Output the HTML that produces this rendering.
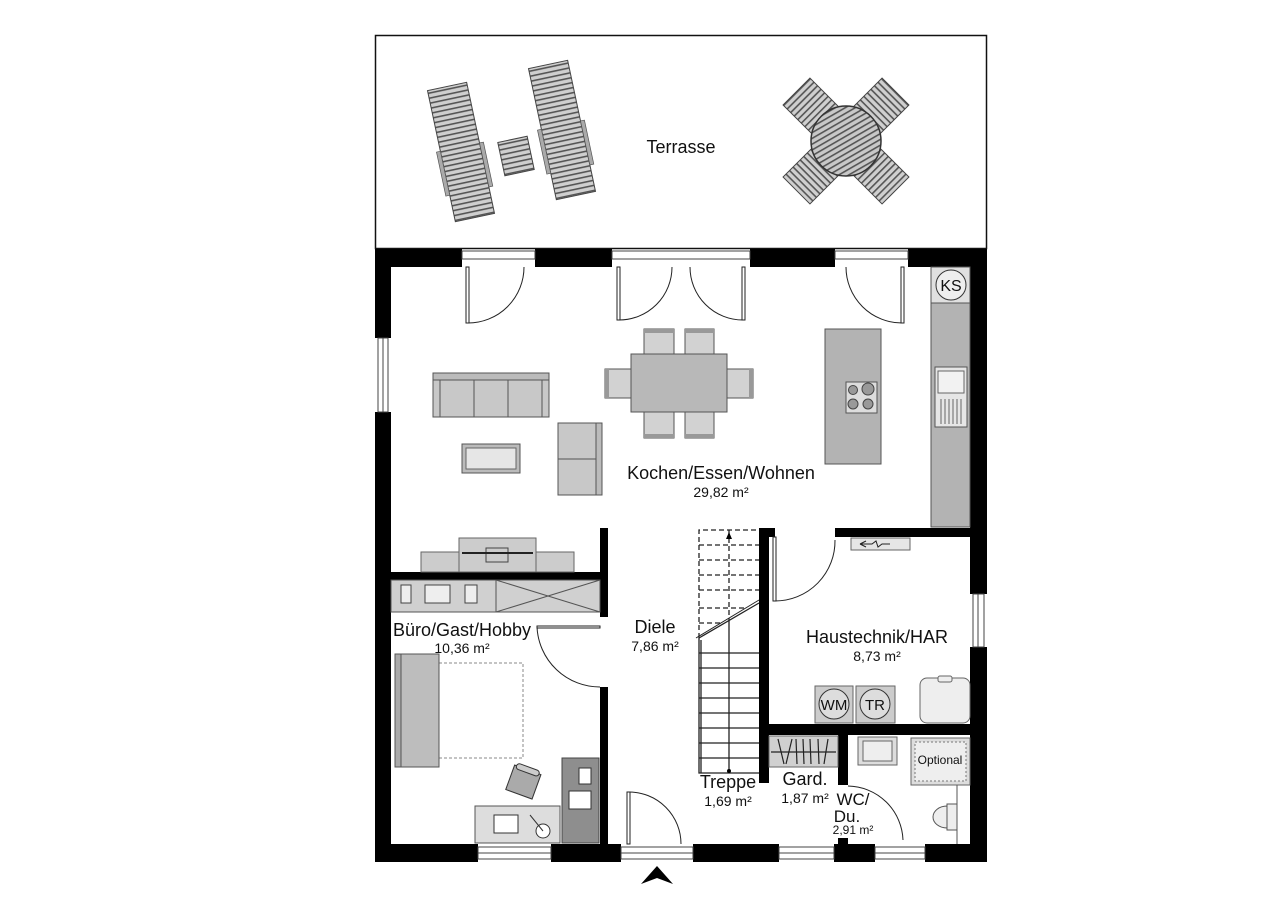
<!DOCTYPE html>
<html><head><meta charset="utf-8"><style>
html,body{margin:0;padding:0;background:#fff;}
svg{display:block;}
text{font-family:"Liberation Sans",Arial,sans-serif;fill:#111;}
</style></head><body>
<svg width="1280" height="906" viewBox="0 0 1280 906" xmlns="http://www.w3.org/2000/svg">
<defs>
<pattern id="hs" width="6" height="5" patternUnits="userSpaceOnUse"><rect width="6" height="5" fill="#cfcfcf"/><rect y="0" width="6" height="1.6" fill="#555"/></pattern>
<pattern id="ds" width="5" height="5" patternUnits="userSpaceOnUse" patternTransform="rotate(60)"><rect width="5" height="5" fill="#c8c8c8"/><rect width="1.6" height="5" fill="#555"/></pattern>
</defs>
<!-- terrace -->
<rect x="375.5" y="35.5" width="611" height="213" fill="none" stroke="#111" stroke-width="1.5"/>
<text x="681" y="153" font-size="18" text-anchor="middle">Terrasse</text>
<g transform="translate(461,152) rotate(-12)"><rect x="-20" y="-67" width="40" height="134" fill="url(#hs)" stroke="#444"/><rect x="-24" y="-5" width="4" height="45" fill="#aaa" stroke="#555" stroke-width=".7"/><rect x="20" y="-5" width="4" height="45" fill="#aaa" stroke="#555" stroke-width=".7"/></g>
<g transform="translate(562,130) rotate(-12)"><rect x="-20" y="-67" width="40" height="134" fill="url(#hs)" stroke="#444"/><rect x="-24" y="-5" width="4" height="45" fill="#aaa" stroke="#555" stroke-width=".7"/><rect x="20" y="-5" width="4" height="45" fill="#aaa" stroke="#555" stroke-width=".7"/></g>
<g transform="translate(516,156) rotate(-12)"><rect x="-15" y="-17" width="30" height="34" fill="url(#hs)" stroke="#444"/></g>
<g transform="translate(846,141)">
<g transform="rotate(45)"><rect x="-19" y="-70" width="38" height="40" fill="url(#hs)" stroke="#444"/><rect x="-19" y="30" width="38" height="40" fill="url(#hs)" stroke="#444"/></g>
<g transform="rotate(-45)"><rect x="-19" y="-70" width="38" height="40" fill="url(#hs)" stroke="#444"/><rect x="-19" y="30" width="38" height="40" fill="url(#hs)" stroke="#444"/></g>
<circle r="35" fill="url(#ds)" stroke="#333" stroke-width="1.5"/>
</g>
<!-- walls -->
<g fill="#000">
<rect x="375" y="249" width="87" height="18"/>
<rect x="535" y="249" width="77" height="18"/>
<rect x="750" y="249" width="85" height="18"/>
<rect x="908" y="249" width="79" height="18"/>
<rect x="375" y="249" width="16" height="89"/>
<rect x="375" y="412" width="16" height="450"/>
<rect x="970" y="249" width="17" height="345"/>
<rect x="970" y="647" width="17" height="215"/>
<rect x="375" y="844" width="103" height="18"/>
<rect x="551" y="844" width="70" height="18"/>
<rect x="693" y="844" width="86" height="18"/>
<rect x="834" y="844" width="41" height="18"/>
<rect x="925" y="844" width="62" height="18"/>
<rect x="391" y="572" width="217" height="8"/>
<rect x="600" y="528" width="8" height="89"/>
<rect x="600" y="687" width="8" height="160"/>
<rect x="759" y="528" width="10" height="255"/>
<rect x="759" y="528" width="16" height="9"/>
<rect x="835" y="528" width="138" height="9"/>
<rect x="769" y="724" width="201" height="11"/>
<rect x="838" y="735" width="10" height="50"/>
<rect x="838" y="838" width="10" height="10"/>
</g>
<!-- windows -->
<g fill="#fff" stroke="#444" stroke-width="1">
<rect x="378" y="338" width="10" height="74"/><line x1="383" y1="338" x2="383" y2="412"/>
<rect x="973" y="594" width="11" height="53"/><line x1="978" y1="594" x2="978" y2="647"/>
<rect x="478" y="847" width="73" height="12"/><line x1="478" y1="853" x2="551" y2="853"/>
<rect x="779" y="847" width="55" height="12"/><line x1="779" y1="853" x2="834" y2="853"/>
<rect x="875" y="847" width="50" height="12"/><line x1="875" y1="853" x2="925" y2="853"/>
<rect x="621" y="847" width="72" height="12"/><line x1="621" y1="853" x2="693" y2="853"/>
<rect x="462" y="251" width="73" height="8"/><rect x="612" y="251" width="138" height="8"/><rect x="835" y="251" width="73" height="8"/>
</g>
<!-- doors -->
<g fill="none" stroke="#222" stroke-width="1">
<rect x="466" y="267" width="3" height="56" fill="#fff"/><path d="M468 323 A56 56 0 0 0 524 267"/>
<rect x="617" y="267" width="3" height="53" fill="#fff"/><path d="M619 320 A53 53 0 0 0 672 267"/>
<rect x="742" y="267" width="3" height="53" fill="#fff"/><path d="M743 320 A53 53 0 0 1 690 267"/>
<rect x="901" y="267" width="3" height="56" fill="#fff"/><path d="M902 323 A56 56 0 0 1 846 267"/>
<rect x="537" y="626" width="63" height="2" fill="#fff"/><path d="M537 627 A63 63 0 0 0 600 687"/>
<rect x="627" y="792" width="3" height="52" fill="#fff"/><path d="M629 792 A52 52 0 0 1 681 844"/>
<rect x="773" y="537" width="3" height="64" fill="#fff"/><path d="M775 601 A60 60 0 0 0 835 540"/>
<path d="M848 786 A56 56 0 0 1 903 840"/>
</g>
<path d="M641 884 L657 866 L673 884 L657 878 Z" fill="#000"/>
<!-- kitchen -->
<rect x="931" y="267" width="39" height="260" fill="#b3b3b3" stroke="#555"/>
<rect x="931" y="267" width="39" height="36" fill="#e0e0e0" stroke="#555"/>
<circle cx="951" cy="285" r="15" fill="#eee" stroke="#333"/>
<text x="951" y="291" font-size="16" text-anchor="middle">KS</text>
<rect x="935" y="367" width="32" height="60" fill="#e6e6e6" stroke="#555"/>
<rect x="938" y="371" width="26" height="22" fill="#f2f2f2" stroke="#666"/>
<g stroke="#666" stroke-width="1"><line x1="941" y1="399" x2="941" y2="424"/><line x1="945" y1="399" x2="945" y2="424"/><line x1="949" y1="399" x2="949" y2="424"/><line x1="953" y1="399" x2="953" y2="424"/><line x1="957" y1="399" x2="957" y2="424"/><line x1="961" y1="399" x2="961" y2="424"/></g>
<rect x="825" y="329" width="56" height="135" fill="#b3b3b3" stroke="#555"/>
<rect x="846" y="382" width="31" height="31" fill="#ddd" stroke="#555"/>
<g fill="#999" stroke="#444"><circle cx="853" cy="390" r="4.5"/><circle cx="868" cy="389" r="6"/><circle cx="853" cy="404" r="5"/><circle cx="868" cy="404" r="5"/></g>
<!-- dining -->
<g fill="#d2d2d2" stroke="#555">
<rect x="644" y="329" width="30" height="26"/><rect x="685" y="329" width="29" height="26"/>
<rect x="644" y="412" width="30" height="26"/><rect x="685" y="412" width="29" height="26"/>
<rect x="605" y="369" width="26" height="29"/><rect x="727" y="369" width="26" height="29"/>
</g>
<g fill="#999"><rect x="644" y="329" width="30" height="4"/><rect x="685" y="329" width="29" height="4"/><rect x="644" y="434" width="30" height="4"/><rect x="685" y="434" width="29" height="4"/><rect x="605" y="369" width="4" height="29"/><rect x="749" y="369" width="4" height="29"/></g>
<rect x="631" y="354" width="96" height="58" fill="#b8b8b8" stroke="#555"/>
<!-- living -->
<rect x="433" y="373" width="116" height="44" fill="#c8c8c8" stroke="#555"/>
<rect x="433" y="373" width="116" height="7" fill="#bbb" stroke="#555"/>
<g stroke="#555"><line x1="474" y1="380" x2="474" y2="417"/><line x1="508" y1="380" x2="508" y2="417"/><line x1="440" y1="380" x2="440" y2="417"/><line x1="542" y1="380" x2="542" y2="417"/></g>
<rect x="462" y="444" width="58" height="29" fill="#bbb" stroke="#555"/><rect x="466" y="448" width="50" height="21" fill="#e6e6e6" stroke="#666"/>
<rect x="558" y="423" width="44" height="72" fill="#c8c8c8" stroke="#555"/><rect x="596" y="423" width="6" height="72" fill="#bbb" stroke="#555"/><line x1="558" y1="459" x2="596" y2="459" stroke="#555"/>
<text x="721" y="479" font-size="18" text-anchor="middle">Kochen/Essen/Wohnen</text>
<text x="721" y="497" font-size="14" text-anchor="middle">29,82 m²</text>
<!-- TV -->
<rect x="421" y="552" width="153" height="20" fill="#ccc" stroke="#666"/>
<rect x="459" y="538" width="77" height="34" fill="#ccc" stroke="#666"/>
<rect x="486" y="548" width="22" height="14" fill="#ccc" stroke="#444"/><line x1="462" y1="553" x2="533" y2="553" stroke="#222" stroke-width="2"/>
<!-- wardrobe -->
<rect x="391" y="580" width="209" height="32" fill="#d0d0d0" stroke="#555"/>
<line x1="496" y1="580" x2="496" y2="612" stroke="#555"/><line x1="496" y1="580" x2="600" y2="612" stroke="#555"/><line x1="496" y1="612" x2="600" y2="580" stroke="#555"/>
<g fill="#eee" stroke="#444"><rect x="401" y="585" width="10" height="18"/><rect x="425" y="585" width="25" height="18"/><rect x="465" y="585" width="12" height="18"/></g>
<text x="462" y="636" font-size="18" text-anchor="middle">Büro/Gast/Hobby</text>
<text x="462" y="653" font-size="14" text-anchor="middle">10,36 m²</text>
<rect x="439" y="663" width="84" height="95" fill="none" stroke="#888" stroke-dasharray="3,2"/>
<rect x="395" y="654" width="44" height="113" fill="#bdbdbd" stroke="#555"/><rect x="395" y="654" width="6" height="113" fill="#aaa" stroke="#555"/>
<rect x="475" y="806" width="85" height="37" fill="#ddd" stroke="#555"/>
<rect x="494" y="815" width="24" height="18" fill="#fff" stroke="#333"/>
<circle cx="543" cy="831" r="7" fill="#fff" stroke="#333"/><line x1="530" y1="815" x2="543" y2="831" stroke="#333"/>
<rect x="562" y="758" width="37" height="85" fill="#8e8e8e" stroke="#444"/>
<rect x="569" y="791" width="22" height="18" fill="#fff" stroke="#333"/>
<g fill="#fff" stroke="#333"><rect x="579" y="768" width="12" height="16"/></g>
<g transform="translate(523,783) rotate(20)"><rect x="-14" y="-14" width="28" height="26" fill="#aaa" stroke="#333"/><rect x="-12" y="-17" width="24" height="6" rx="3" fill="#ccc" stroke="#333"/></g>
<!-- Diele -->
<text x="655" y="633" font-size="18" text-anchor="middle">Diele</text>
<text x="655" y="651" font-size="14" text-anchor="middle">7,86 m²</text>
<!-- stairs -->
<g stroke="#222" fill="none" stroke-width="1.3">
<path d="M699 638 L699 773 L759 773" />
<path d="M699 638 L759 603" />
<path d="M696 638 L759 600" stroke-width="1"/>
<path d="M699 638 L699 530 L759 530" stroke-dasharray="5,3"/>
<line x1="729" y1="530" x2="729" y2="620" stroke-dasharray="5,3"/>
<line x1="729" y1="620" x2="729" y2="773"/>
<g stroke-dasharray="5,3"><line x1="699" y1="545" x2="759" y2="545"/><line x1="699" y1="560" x2="759" y2="560"/><line x1="699" y1="575" x2="759" y2="575"/><line x1="699" y1="590" x2="759" y2="590"/><line x1="699" y1="608" x2="745" y2="608"/><line x1="699" y1="623" x2="720" y2="623"/></g>
<line x1="699" y1="653" x2="759" y2="653"/><line x1="699" y1="668" x2="759" y2="668"/><line x1="699" y1="683" x2="759" y2="683"/><line x1="699" y1="698" x2="759" y2="698"/><line x1="699" y1="713" x2="759" y2="713"/><line x1="699" y1="728" x2="759" y2="728"/><line x1="699" y1="743" x2="759" y2="743"/><line x1="699" y1="758" x2="759" y2="758"/>
<line x1="701" y1="640" x2="701" y2="773"/>
</g>
<path d="M729 532 l-3 7 h6z" fill="#000"/>
<circle cx="729" cy="771" r="2" fill="#000"/>
<text x="728" y="788" font-size="18" text-anchor="middle">Treppe</text>
<text x="728" y="806" font-size="14" text-anchor="middle">1,69 m²</text>
<!-- HAR -->
<rect x="851" y="538" width="59" height="12" fill="#e6e6e6" stroke="#666"/>
<path d="M860 544 l6 -3 M860 544 l6 3 M860 544 h12 l4 -3 l2 6 l4 -3 h8" fill="none" stroke="#222"/>
<text x="877" y="643" font-size="18" text-anchor="middle">Haustechnik/HAR</text>
<text x="877" y="661" font-size="14" text-anchor="middle">8,73 m²</text>
<rect x="815" y="686" width="38" height="37" fill="#ccc" stroke="#666"/><circle cx="834" cy="704" r="15" fill="#ddd" stroke="#333"/>
<rect x="856" y="686" width="39" height="37" fill="#ccc" stroke="#666"/><circle cx="875" cy="704" r="15" fill="#ddd" stroke="#333"/>
<text x="834" y="710" font-size="15" text-anchor="middle">WM</text><text x="875" y="710" font-size="15" text-anchor="middle">TR</text>
<rect x="920" y="678" width="50" height="45" rx="7" fill="#eee" stroke="#666"/><rect x="938" y="676" width="14" height="6" rx="2" fill="#eee" stroke="#666"/>
<!-- Gard -->
<rect x="769" y="736" width="69" height="31" fill="#d0d0d0" stroke="#666"/>
<g stroke="#222" stroke-width="1.2"><line x1="771" y1="752" x2="836" y2="752"/><line x1="778" y1="739" x2="784" y2="764"/><line x1="786" y1="764" x2="792" y2="739"/><line x1="796" y1="739" x2="797" y2="764"/><line x1="803" y1="739" x2="804" y2="764"/><line x1="810" y1="739" x2="811" y2="764"/><line x1="818" y1="739" x2="819" y2="764"/><line x1="828" y1="739" x2="824" y2="764"/></g>
<text x="805" y="785" font-size="18" text-anchor="middle">Gard.</text>
<text x="805" y="803" font-size="14" text-anchor="middle">1,87 m²</text>
<!-- WC -->
<rect x="858" y="737" width="39" height="28" fill="#ddd" stroke="#666"/><rect x="863" y="741" width="29" height="20" fill="#eee" stroke="#666"/>
<rect x="911" y="738" width="59" height="47" fill="#ddd" stroke="#666"/><rect x="915" y="742" width="51" height="39" fill="#eee" stroke="#777" stroke-dasharray="2,2"/>
<text x="940" y="764" font-size="12" text-anchor="middle">Optional</text>
<line x1="957" y1="785" x2="957" y2="844" stroke="#555"/>
<rect x="947" y="804" width="10" height="26" fill="#eee" stroke="#555"/><path d="M947 806 a14 11 0 0 0 0 22z" fill="#eee" stroke="#555"/>
<text x="853" y="805" font-size="17" text-anchor="middle">WC/</text>
<text x="847" y="822" font-size="17" text-anchor="middle">Du.</text>
<text x="853" y="834" font-size="12" text-anchor="middle">2,91 m²</text>
</svg>
</body></html>
